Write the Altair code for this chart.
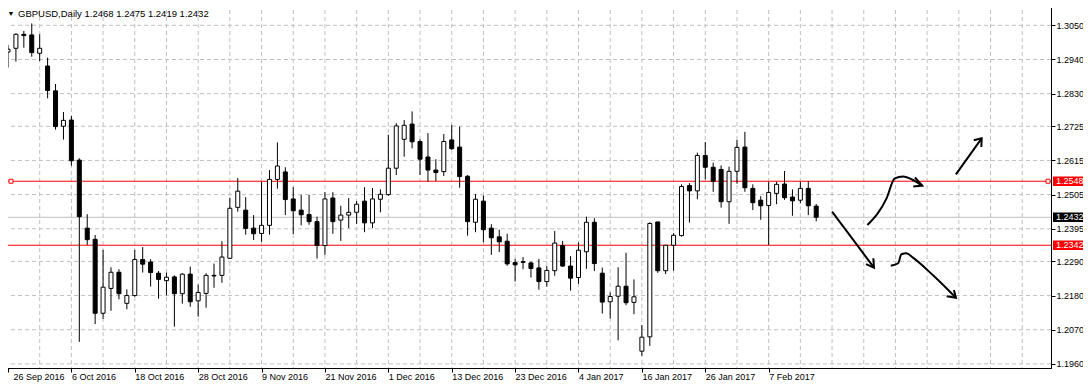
import altair as alt
import pandas as pd

# ---------------- data ----------------
symbol = "GBPUSD"
period = "Daily"

opens = [1.2964, 1.2976, 1.3021, 1.3019, 1.2960, 1.2919, 1.2839, 1.2725, 1.2745, 1.2616,
         1.2397, 1.2361, 1.2123, 1.2203, 1.2255, 1.2155, 1.2180, 1.2296, 1.2288, 1.2252,
         1.2228, 1.2240, 1.2186, 1.2249, 1.2163, 1.2187, 1.2243, 1.2245, 1.2300, 1.2464,
         1.2455, 1.2397, 1.2380, 1.2406, 1.2554, 1.2578, 1.2491, 1.2455, 1.2441, 1.2418,
         1.2341, 1.2494, 1.2423, 1.2439, 1.2448, 1.2484, 1.2414, 1.2490, 1.2505, 1.2590,
         1.2683, 1.2732, 1.2676, 1.2626, 1.2584, 1.2579, 1.2681, 1.2658, 1.2564, 1.2416,
         1.2484, 1.2397, 1.2369, 1.2355, 1.2286, 1.2289, 1.2285, 1.2269, 1.2225, 1.2260,
         1.2341, 1.2275, 1.2238, 1.2321, 1.2416, 1.2252, 1.2160, 1.2178, 1.2210, 1.2158,
         1.2001, 1.2047, 1.2417, 1.2260, 1.2342, 1.2373, 1.2534, 1.2517, 1.2631, 1.2593,
         1.2586, 1.2482, 1.2580, 1.2658, 1.2525, 1.2487, 1.2470, 1.2509, 1.2539, 1.2497,
         1.2487, 1.2525, 1.2468]
highs = [1.2987, 1.3024, 1.3032, 1.3056, 1.3021, 1.2946, 1.2861, 1.2771, 1.2758, 1.2622,
         1.2442, 1.2375, 1.2327, 1.2271, 1.2265, 1.2200, 1.2327, 1.2336, 1.2297, 1.2259,
         1.2254, 1.2245, 1.2252, 1.2273, 1.2215, 1.2252, 1.2283, 1.2355, 1.2495, 1.2558,
         1.2497, 1.2439, 1.2546, 1.2584, 1.2673, 1.2593, 1.2529, 1.2504, 1.2504, 1.2434,
         1.2513, 1.2513, 1.2469, 1.2494, 1.2484, 1.2529, 1.2526, 1.2522, 1.2698, 1.2735,
         1.2745, 1.2773, 1.2683, 1.2703, 1.2619, 1.2700, 1.2729, 1.2724, 1.2568, 1.2507,
         1.2502, 1.2410, 1.2392, 1.2379, 1.2298, 1.2304, 1.2289, 1.2298, 1.2275, 1.2388,
         1.2356, 1.2307, 1.2351, 1.2434, 1.2429, 1.2270, 1.2190, 1.2271, 1.2318, 1.2232,
         1.2085, 1.2416, 1.2417, 1.2342, 1.2381, 1.2538, 1.2542, 1.2640, 1.2674, 1.2608,
         1.2599, 1.2595, 1.2681, 1.2707, 1.2538, 1.2500, 1.2546, 1.2546, 1.2581, 1.2522,
         1.2546, 1.2548, 1.2475]
lows = [1.2914, 1.2933, 1.2978, 1.2949, 1.2935, 1.2815, 1.2714, 1.2682, 1.2598, 1.2031,
        1.2343, 1.2088, 1.2105, 1.2131, 1.2168, 1.2136, 1.2176, 1.2254, 1.2209, 1.2170,
        1.2181, 1.2080, 1.2154, 1.2144, 1.2112, 1.2141, 1.2205, 1.2221, 1.2298, 1.2450,
        1.2376, 1.2359, 1.2353, 1.2376, 1.2524, 1.2439, 1.2378, 1.2406, 1.2408, 1.2299,
        1.2311, 1.2379, 1.2356, 1.2397, 1.2411, 1.2384, 1.2397, 1.2448, 1.2501, 1.2568,
        1.2627, 1.2654, 1.2568, 1.2547, 1.2549, 1.2565, 1.2649, 1.2527, 1.2373, 1.2384,
        1.2352, 1.2311, 1.2320, 1.2276, 1.2225, 1.2265, 1.2238, 1.2199, 1.2209, 1.2244,
        1.2272, 1.2196, 1.2218, 1.2266, 1.2259, 1.2122, 1.2106, 1.2036, 1.2149, 1.2120,
        1.1986, 1.2018, 1.2253, 1.2249, 1.2260, 1.2370, 1.2415, 1.2490, 1.2554, 1.2514,
        1.2463, 1.2411, 1.2540, 1.2514, 1.2455, 1.2424, 1.2343, 1.2474, 1.2488, 1.2437,
        1.2477, 1.2439, 1.2419]
closes = [1.2973, 1.3021, 1.3017, 1.2962, 1.2976, 1.2840, 1.2724, 1.2744, 1.2614, 1.2434,
          1.2360, 1.2123, 1.2207, 1.2255, 1.2186, 1.2180, 1.2296, 1.2281, 1.2254, 1.2232,
          1.2239, 1.2186, 1.2249, 1.2160, 1.2190, 1.2245, 1.2245, 1.2304, 1.2461, 1.2516,
          1.2396, 1.2379, 1.2406, 1.2554, 1.2597, 1.2489, 1.2453, 1.2440, 1.2418, 1.2341,
          1.2491, 1.2418, 1.2439, 1.2448, 1.2474, 1.2414, 1.2491, 1.2506, 1.2590, 1.2726,
          1.2728, 1.2675, 1.2619, 1.2584, 1.2576, 1.2676, 1.2653, 1.2563, 1.2418, 1.2490,
          1.2392, 1.2366, 1.2353, 1.2282, 1.2279, 1.2287, 1.2267, 1.2225, 1.2261, 1.2349,
          1.2275, 1.2236, 1.2326, 1.2416, 1.2283, 1.2159, 1.2177, 1.2210, 1.2157, 1.2176,
          1.2046, 1.2412, 1.2260, 1.2342, 1.2374, 1.2531, 1.2517, 1.2631, 1.2593, 1.2548,
          1.2482, 1.2580, 1.2657, 1.2527, 1.2479, 1.2469, 1.2512, 1.2538, 1.2495, 1.2485,
          1.2525, 1.2469, 1.2432]

# x-axis labels (one every 8 bars)
x_tick_bars = [0, 8, 16, 24, 32, 40, 48, 56, 64, 72, 80, 88, 96]
x_tick_labels = ["26 Sep 2016", "6 Oct 2016", "18 Oct 2016", "28 Oct 2016", "9 Nov 2016",
                 "21 Nov 2016", "1 Dec 2016", "13 Dec 2016", "23 Dec 2016", "4 Jan 2017",
                 "16 Jan 2017", "26 Jan 2017", "7 Feb 2017"]
# y-axis labels
y_ticks = [1.1960, 1.2070, 1.2180, 1.2290, 1.2395, 1.2505, 1.2615, 1.2725, 1.2830, 1.2940, 1.3050]
# vertical grid every 4 bars
x_grid_bars = list(range(4, 132, 4))

# horizontal levels
level_prices = [1.2548, 1.2342]
bid_price = 1.2432

# hand-drawn arrows (bar index, price)
curve_strokes = [
    [(104.0, 1.2450), (109.29, 1.2270)],
    [(108.46, 1.2407), (110.88, 1.2493), (111.91, 1.2557), (112.96, 1.2563), (114.21, 1.2552), (115.38, 1.2534)],
    [(119.63, 1.2570), (122.88, 1.2686)],
    [(111.41, 1.2276), (112.34, 1.2284), (112.75, 1.2313), (113.38, 1.2316), (114.21, 1.2302), (116.71, 1.2246), (119.63, 1.2173)],
]
head_strokes = [
    [(108.29, 1.2281), (109.29, 1.2270), (109.21, 1.2300)],
    [(114.46, 1.2560), (115.38, 1.2534), (114.25, 1.2531)],
    [(121.88, 1.2680), (122.88, 1.2686), (122.84, 1.2658)],
    [(118.46, 1.2178), (119.63, 1.2173), (119.38, 1.2198)],
]

# ---------------- frames ----------------
n = len(opens)
df = pd.DataFrame({"i": list(range(n)), "o": opens, "h": highs, "l": lows, "c": closes})
df["top"] = df[["o", "c"]].max(axis=1)
df["bot"] = df[["o", "c"]].min(axis=1)
df["fill"] = ["white" if c >= o else "black" for o, c in zip(opens, closes)]

def strokes_df(strokes):
    rows = []
    for g, s in enumerate(strokes):
        for k, (b, p) in enumerate(s):
            rows.append({"g": g, "k": k, "b": b, "p": p})
    return pd.DataFrame(rows)

curves = strokes_df(curve_strokes)
heads = strokes_df(head_strokes)

W, H = 1049, 365
FONT = "Liberation Sans"
xs = alt.Scale(domain=[-0.125, 131], nice=False, zero=False)
ys = alt.Scale(domain=[1.19468, 1.31218], nice=False, zero=False)

label_expr = ("[" + ",".join(f"'{t}'" for t in x_tick_labels) + "][indexof(["
              + ",".join(str(v) for v in x_tick_bars) + "], datum.value)]")

X_AX = alt.Axis(values=x_tick_bars, labelExpr=label_expr, grid=False,
                tickSize=4, tickColor="black", domainColor="black",
                labelFont=FONT, labelFontSize=9, labelColor="black",
                labelAlign="left", labelPadding=0, labelFlush=False,
                labelOffset=alt.condition("datum.value == 0", alt.value(5), alt.value(0)),
                labelOverlap=False, title=None)
Y_AX = alt.Axis(orient="right", values=y_ticks, format=".4f", grid=False,
                tickSize=4, tickColor="black", domainColor="black",
                labelFont=FONT, labelFontSize=9, labelColor="black",
                labelPadding=1, title=None, labelOverlap=False)

def X(f):
    return alt.X(f, scale=xs, axis=X_AX)

def Y(f):
    return alt.Y(f, scale=ys, axis=Y_AX)

grid_style = dict(color="#c0c0c0", strokeWidth=1, strokeDash=[4, 3])

hgrid = alt.Chart(pd.DataFrame({"p": y_ticks})).mark_rule(**grid_style).encode(y=Y("p:Q"))
vgrid = alt.Chart(pd.DataFrame({"b": x_grid_bars})).mark_rule(**grid_style).encode(x=X("b:Q"))

levels = alt.Chart(pd.DataFrame({"p": level_prices})).mark_rule(color="#ff0000", strokeWidth=1).encode(
    y=Y("p:Q"))
bid = alt.Chart(pd.DataFrame({"p": [bid_price]})).mark_rule(color="#c0c0c0", strokeWidth=1).encode(
    y=Y("p:Q"))

wicks = alt.Chart(df).mark_rule(color="black", strokeWidth=1).encode(
    x=X("i:Q"), y=Y("l:Q"), y2="h:Q")
bodies = alt.Chart(df).mark_bar(size=4, stroke="black", strokeWidth=1).encode(
    x=X("i:Q"), y=Y("bot:Q"), y2="top:Q",
    fill=alt.Fill("fill:N", scale=None))

curve_layer = alt.Chart(curves).mark_line(color="black", strokeWidth=2, interpolate="monotone").encode(
    x=X("b:Q"), y=Y("p:Q"), detail="g:N", order="k:Q")
head_layer = alt.Chart(heads).mark_line(color="black", strokeWidth=2).encode(
    x=X("b:Q"), y=Y("p:Q"), detail="g:N", order="k:Q")

# price boxes on the right axis
box_prices = [level_prices[0], bid_price, level_prices[1]]
box_fills = ["#ff0000", "black", "#ff0000"]
half = 0.0015
boxes_df = pd.DataFrame({"p": box_prices, "lo": [p - half for p in box_prices],
                         "hi": [p + half for p in box_prices], "fill": box_fills,
                         "t": [f"{p:.4f}" for p in box_prices]})
box_rect = alt.Chart(boxes_df).mark_rect().encode(
    x=alt.value(W + 2), x2=alt.value(W + 40),
    y=Y("lo:Q"), y2="hi:Q",
    fill=alt.Fill("fill:N", scale=None))
box_text = alt.Chart(boxes_df).mark_text(align="left", baseline="middle", font=FONT,
                                         fontSize=9, color="white").encode(
    x=alt.value(W + 5), y=Y("p:Q"), text="t:N")

markers = alt.Chart(pd.DataFrame({"p": [level_prices[0]]})).mark_point(
    shape="square", filled=True, fill="white", stroke="#ff0000", strokeWidth=1, size=16, opacity=1).encode(
    x=alt.value(9), y=Y("p:Q"))
markers_r = alt.Chart(pd.DataFrame({"p": [level_prices[0]]})).mark_point(
    shape="square", filled=True, fill="white", stroke="#ff0000", strokeWidth=1, size=16, opacity=1).encode(
    x=alt.value(W - 3), y=Y("p:Q"))

title_str = f"{symbol},{period}  {opens[-1]:.4f} {highs[-1]:.4f} {lows[-1]:.4f} {closes[-1]:.4f}"
title = alt.Chart(pd.DataFrame({"t": [title_str]})).mark_text(
    align="left", baseline="middle", font=FONT, fontSize=9.5, color="black").encode(
    x=alt.value(16), y=alt.value(10.5), text="t:N")
tri = alt.Chart(pd.DataFrame({"t": ["▼"]})).mark_text(
    align="center", baseline="middle", fontSize=7, color="black").encode(
    x=alt.value(9), y=alt.value(10.5), text="t:N")

chart = alt.layer(hgrid, vgrid, levels, bid, wicks, bodies, curve_layer, head_layer,
                  box_rect, box_text, markers, markers_r, title, tri).properties(
    width=W, height=H,
    background="white",
    autosize=alt.AutoSizeParams(type="none"),
    padding={"left": -6, "top": -5, "right": 32, "bottom": 15},
).configure_view(stroke="black", strokeWidth=1)

chart.save("out.html", embed_options={"renderer": "svg", "actions": False})
